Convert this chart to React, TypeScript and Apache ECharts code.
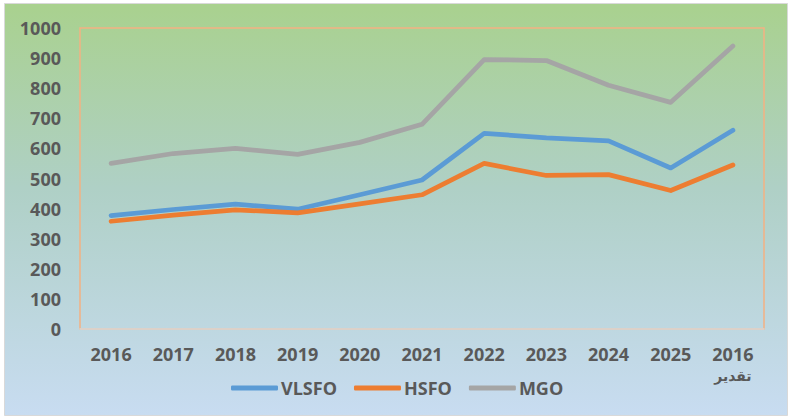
import React, { useEffect, useRef } from "react";
import * as echarts from "echarts";

const categories = ["2016", "2017", "2018", "2019", "2020", "2021", "2022", "2023", "2024", "2025", "2016\nتقدير"];
const vlsfo = [377, 397, 415, 398, 446, 495, 650, 635, 625, 535, 660];
const hsfo = [358, 378, 396, 386, 416, 446, 550, 510, 513, 460, 545];
const mgo = [550, 583, 600, 580, 620, 680, 895, 892, 810, 753, 940];
const yTicks = [0, 100, 200, 300, 400, 500, 600, 700, 800, 900, 1000];

const FONT = "'Open Sans', 'Liberation Sans', sans-serif";
const TXT = "#595959";

export default function App() {
  const ref = useRef<HTMLDivElement>(null);
  useEffect(() => {
    document.body.style.margin = "0";
    const chart = echarts.init(ref.current!, null, { renderer: "svg" });
    const mk = (name: string, data: number[], color: string) => ({
      name,
      type: "line",
      data,
      symbol: "none",
      lineStyle: { color, width: 4.75, cap: "round", join: "round" },
      itemStyle: { color },
      z: 3,
    });
    chart.setOption({
      animation: false,
      backgroundColor: "#ffffff",
      graphic: [
        {
          type: "rect",
          z: -10,
          silent: true,
          shape: { x: 4.5, y: 3.5, width: 783, height: 412 },
          style: {
            fill: new echarts.graphic.LinearGradient(0, 0, 0, 1, [
              { offset: 0, color: "#a9d18e" },
              { offset: 0.45, color: "#afd0c6" },
              { offset: 1, color: "#c8dcf1" },
            ]),
            stroke: "#d9d9d9",
            lineWidth: 1,
          },
        },
      ],
      grid: {
        left: 80,
        right: 27,
        top: 28,
        bottom: 89,
        show: true,
        borderColor: "#f4b183",
        borderWidth: 1.5,
        backgroundColor: "transparent",
      },
      legend: {
        left: 226,
        top: 374,
        icon: "roundRect",
        itemWidth: 47,
        itemHeight: 5,
        itemGap: 17,
        textStyle: { color: TXT, fontFamily: FONT, fontWeight: "bold", fontSize: 18, padding: [0, 0, 0, -2] },
        data: ["VLSFO", "HSFO", "MGO"],
      },
      xAxis: {
        type: "category",
        data: categories,
        boundaryGap: true,
        axisLine: { lineStyle: { color: "#d9d9d9", width: 1.5 } },
        axisTick: { show: false },
        axisLabel: {
          interval: 0,
          margin: 13,
          color: TXT,
          fontFamily: FONT,
          fontWeight: "bold",
          fontSize: 18,
          formatter: (v: string) => {
            const parts = v.split("\n");
            if (parts.length > 1) return "{a|" + parts[0] + "}\n{b|" + parts[1] + "}";
            return "{a|" + v + "}";
          },
          rich: {
            a: { color: TXT, fontFamily: FONT, fontWeight: "bold", fontSize: 18, lineHeight: 24 },
            b: { color: TXT, fontFamily: "'DejaVu Sans', sans-serif", fontWeight: "bold", fontSize: 14, lineHeight: 20 },
          },
        },
      },
      yAxis: {
        type: "value",
        min: 0,
        max: 1000,
        interval: 100,
        axisLine: { show: false },
        axisTick: { show: false },
        splitLine: { show: false },
        axisLabel: {
          margin: 19,
          color: TXT,
          fontFamily: FONT,
          fontWeight: "bold",
          fontSize: 18,
          formatter: (v: number) => (yTicks.includes(v) ? String(v) : ""),
        },
      },
      series: [mk("VLSFO", vlsfo, "#5b9bd5"), mk("HSFO", hsfo, "#ed7d31"), mk("MGO", mgo, "#a5a5a5")],
    });
    return () => chart.dispose();
  }, []);
  return <div ref={ref} style={{ width: 791, height: 418 }} />;
}
